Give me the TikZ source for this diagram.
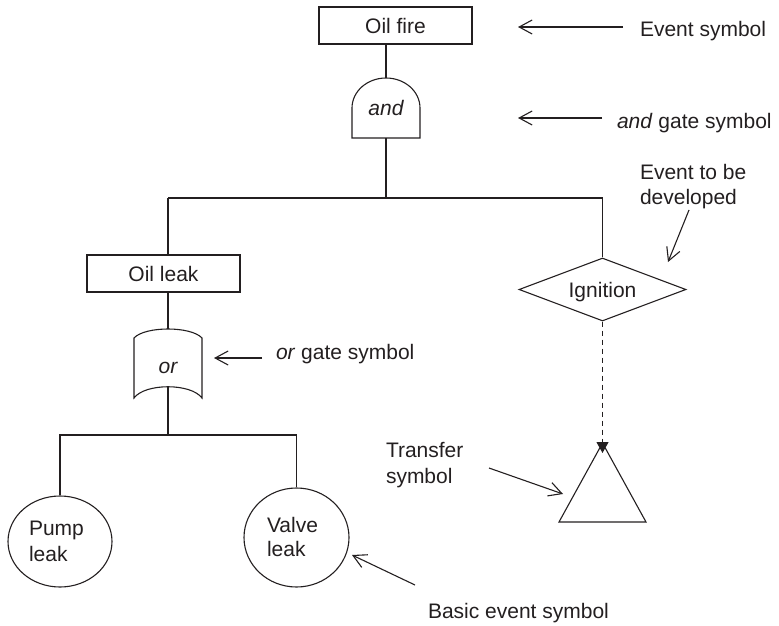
\documentclass[tikz,border=0pt]{standalone}
\usepackage{fontspec}
\setmainfont{Liberation Sans}
\usetikzlibrary{arrows.meta,shapes.geometric,calc}
\definecolor{ink}{RGB}{35,31,32}
\begin{document}
\begin{tikzpicture}[x=1pt,y=-1pt,line width=1.1pt,draw=ink,text=ink,
  txt/.style={font=\fontsize{21}{25}\selectfont, inner sep=0pt, outer sep=0pt},
  evbox/.style={draw=ink, rectangle, minimum width=153pt, minimum height=37pt, inner sep=0pt, font=\fontsize{21}{25}\selectfont},
  basic/.style={draw=ink, ellipse, inner sep=0pt},
  ptr/.style={-{Straight Barb[length=13pt,width=14pt]}},
  dashline/.style={dash pattern=on 5pt off 4pt},
  ]
\useasboundingbox (0,0) rectangle (779,626);

% top event
\node[evbox] (fire) at (395.5,25.5) {Oil fire};

% and gate
\coordinate (andN) at (386,78);
\coordinate (andS) at (386,138);
\draw (352,138) -- (352,108) .. controls (352,91.4) and (367.2,78) .. (andN)
      .. controls (404.8,78) and (420,91.4) .. (420,108) -- (420,138) -- cycle;
\node[txt, anchor=base] (andt) at (386,115) {\itshape and};

% junction
\coordinate (jL) at (168,198);
\coordinate (jT) at (386,198);
\coordinate (jR) at (602.5,198);

% oil leak
\node[evbox] (leak) at (163.5,273.5) {Oil leak};

% ignition diamond
\node[draw=ink, diamond, minimum width=167pt, minimum height=63pt, inner sep=0pt] (ign) at (602.5,289.5) {};
\node[txt, anchor=base] (ignt) at (602.5,297) {Ignition};

% or gate
\coordinate (orN) at (168,329);
\coordinate (orS) at (168,386.75);
\draw (134,338) .. controls (145,326) and (191,326) .. (202,338) -- (202,398)
      .. controls (191,383) and (145,383) .. (134,398) -- cycle;
\node[txt, anchor=base] (ort) at (168,373) {\itshape or};

% basic events
\coordinate (jB) at (168,435);
\node[basic, minimum width=104pt, minimum height=91pt] (pump) at (60,541.5) {};
\node[basic, minimum width=105pt, minimum height=99pt] (valve) at (296.5,537.5) {};
\node[txt, anchor=base west] (pump1) at (29,535) {Pump};
\node[txt, anchor=base west] (pump2) at (29,561) {leak};
\node[txt, anchor=base west] (valve1) at (267,532) {Valve};
\node[txt, anchor=base west] (valve2) at (267,556) {leak};

% transfer triangle
\coordinate (trN) at (602.5,443);
\draw (trN) -- (646,522) -- (559,522) -- cycle;

% connectors
\draw (fire.south -| andN) -- (andN);
\draw (andS) -- (jT);
\draw (jL) -- (jR);
\draw (jL) -- (leak.north -| jL);
\draw (jR) -- (ign.north);
\draw (leak.south -| orN) -- (orN);
\draw (orS) -- (jB);
\draw (pump.north) -- (pump.north |- jB) -- (valve.north |- jB) -- (valve.north);
\draw[dashline, -{Triangle[length=11pt,width=12pt]}] (ign.south) -- ($(trN)+(0,10)$);

% annotation texts
\node[txt, anchor=base west] (l1) at (640,37) {Event symbol};
\node[txt, anchor=base west] (l2) at (617,128) {\textit{and} gate symbol};
\node[txt, anchor=base west] (l3a) at (640,179) {Event to be};
\node[txt, anchor=base west] (l3b) at (640,204) {developed};
\node[txt, anchor=base west] (l4) at (276,359) {\textit{or} gate symbol};
\node[txt, anchor=base west] (l5a) at (386,457) {Transfer};
\node[txt, anchor=base west] (l5b) at (386,483) {symbol};
\node[txt, anchor=base west] (l6) at (428,618) {Basic event symbol};

% annotation arrows
\coordinate (a1s) at (623,27);  \coordinate (a1e) at (518,27);
\coordinate (a2s) at (602,118); \coordinate (a2e) at (518,118);
\coordinate (a3s) at (689,210); \coordinate (a3e) at (668,262);
\coordinate (a4s) at (262,358); \coordinate (a4e) at (214,358);
\coordinate (a5s) at (489,468); \coordinate (a5e) at (563,494);
\coordinate (a6s) at (415,585); \coordinate (a6e) at (352,555);
\draw[ptr] (a1s) -- (a1e);
\draw[ptr] (a2s) -- (a2e);
\draw[ptr] (a3s) -- (a3e);
\draw[ptr] (a4s) -- (a4e);
\draw[ptr] (a5s) -- (a5e);
\draw[ptr] (a6s) -- (a6e);
\end{tikzpicture}
\end{document}
